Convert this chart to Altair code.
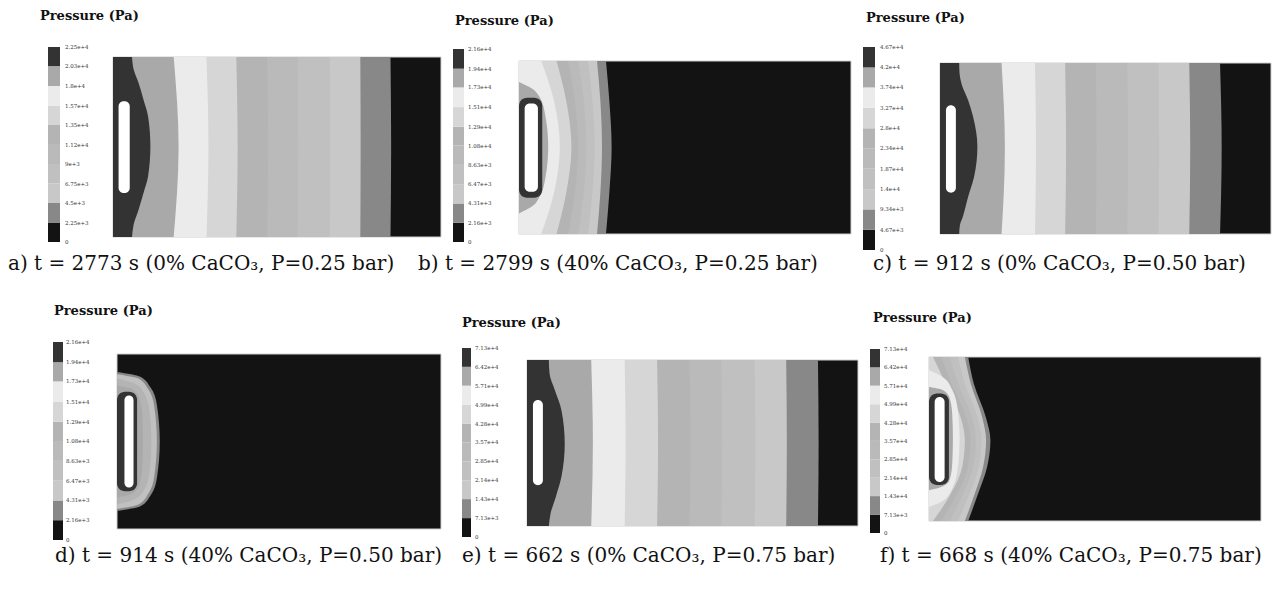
import altair as alt
import pandas as pd

SERIF = "DejaVu Serif, Liberation Serif, serif"
OFF = 8  # page margin

# ---------------- data ----------------
# colour of each pressure band, lowest band first
GRAYS = ["#131313", "#888888", "#c8c8c8", "#c0c0c0", "#bababa",
         "#b4b4b4", "#d6d6d6", "#ebebeb", "#a9a9a9", "#333333"]

TITLE = "Pressure (Pa)"

LABELS_A = ["0", "2.25e+3", "4.5e+3", "6.75e+3", "9e+3", "1.12e+4", "1.35e+4", "1.57e+4", "1.8e+4", "2.03e+4", "2.25e+4"]
LABELS_B = ["0", "2.16e+3", "4.31e+3", "6.47e+3", "8.63e+3", "1.08e+4", "1.29e+4", "1.51e+4", "1.73e+4", "1.94e+4", "2.16e+4"]
LABELS_C = ["0", "4.67e+3", "9.34e+3", "1.4e+4", "1.87e+4", "2.34e+4", "2.8e+4", "3.27e+4", "3.74e+4", "4.2e+4", "4.67e+4"]
LABELS_D = ["0", "2.16e+3", "4.31e+3", "6.47e+3", "8.63e+3", "1.08e+4", "1.29e+4", "1.51e+4", "1.73e+4", "1.94e+4", "2.16e+4"]
LABELS_E = ["0", "7.13e+3", "1.43e+4", "2.14e+4", "2.85e+4", "3.57e+4", "4.28e+4", "4.99e+4", "5.71e+4", "6.42e+4", "7.13e+4"]
LABELS_F = ["0", "7.13e+3", "1.43e+4", "2.14e+4", "2.85e+4", "3.57e+4", "4.28e+4", "4.99e+4", "5.71e+4", "6.42e+4", "7.13e+4"]

CAPTIONS = [
    "a)  t = 2773 s (0% CaCO\u2083, P=0.25 bar)",
    "b)  t = 2799 s (40% CaCO\u2083, P=0.25 bar)",
    "c) t = 912 s (0% CaCO\u2083, P=0.50 bar)",
    "d)   t = 914 s (40% CaCO\u2083, P=0.50 bar)",
    "e)  t = 662 s (0% CaCO\u2083, P=0.75 bar)",
    "f) t = 668 s (40% CaCO\u2083, P=0.75 bar)",
]

# Contour regions: (band level, heights from top 0..1, extent from inlet side 0..1)
Y3 = [0.0, 0.5, 1.0]
A_REGIONS = [
    (1, Y3, [0.846, 0.848, 0.846]),
    (2, Y3, [0.754, 0.755, 0.754]),
    (3, Y3, [0.661, 0.662, 0.661]),
    (4, Y3, [0.563, 0.565, 0.563]),
    (5, Y3, [0.470, 0.473, 0.470]),
    (6, Y3, [0.376, 0.380, 0.376]),
    (7, Y3, [0.285, 0.291, 0.285]),
    (8, Y3, [0.185, 0.200, 0.185]),
    (9, [0, 0.07, 0.144, 0.237, 0.33, 0.496, 0.663, 0.756, 0.848, 0.93, 1.0],
        [0.058, 0.063, 0.078, 0.093, 0.107, 0.114, 0.107, 0.093, 0.078, 0.063, 0.058]),
]
C_REGIONS = [
    (1, Y3, [0.846, 0.851, 0.846]),
    (2, Y3, [0.753, 0.756, 0.753]),
    (3, Y3, [0.660, 0.662, 0.660]),
    (4, Y3, [0.566, 0.568, 0.566]),
    (5, Y3, [0.471, 0.473, 0.471]),
    (6, Y3, [0.378, 0.381, 0.378]),
    (7, Y3, [0.287, 0.290, 0.287]),
    (8, Y3, [0.186, 0.196, 0.186]),
    (9, [0, 0.06, 0.121, 0.218, 0.315, 0.49, 0.665, 0.782, 0.899, 0.95, 1.0],
        [0.058, 0.059, 0.065, 0.085, 0.100, 0.113, 0.103, 0.085, 0.069, 0.060, 0.058]),
]
E_REGIONS = [
    (1, Y3, [0.879, 0.881, 0.879]),
    (2, Y3, [0.783, 0.785, 0.783]),
    (3, Y3, [0.688, 0.690, 0.688]),
    (4, Y3, [0.587, 0.590, 0.587]),
    (5, Y3, [0.491, 0.494, 0.491]),
    (6, Y3, [0.393, 0.396, 0.393]),
    (7, Y3, [0.295, 0.298, 0.295]),
    (8, Y3, [0.194, 0.199, 0.194]),
    (9, [0, 0.08, 0.181, 0.302, 0.503, 0.704, 0.825, 0.926, 1.0],
        [0.066, 0.068, 0.084, 0.104, 0.114, 0.104, 0.087, 0.071, 0.066]),
]
YB = [0.0, 0.227, 0.496, 0.765, 1.0]
B_REGIONS = [
    (1, YB, [0.262, 0.272, 0.279, 0.272, 0.262]),
    (2, YB, [0.235, 0.245, 0.250, 0.245, 0.235]),
    (3, YB, [0.208, 0.221, 0.228, 0.221, 0.208]),
    (4, YB, [0.178, 0.195, 0.203, 0.195, 0.178]),
    (5, YB, [0.148, 0.168, 0.178, 0.168, 0.148]),
    (6, YB, [0.113, 0.142, 0.158, 0.142, 0.113]),
    (7, YB, [0.067, 0.105, 0.123, 0.105, 0.067]),
    (8, [0.121, 0.16, 0.208, 0.323, 0.496, 0.669, 0.785, 0.84, 0.881],
        [0, 0.040, 0.062, 0.080, 0.088, 0.080, 0.062, 0.040, 0]),
]
D_REGIONS = [
    (1, [0.103, 0.13, 0.19, 0.29, 0.5, 0.71, 0.81, 0.87, 0.897],
        [0, 0.072, 0.103, 0.123, 0.132, 0.123, 0.103, 0.072, 0]),
    (3, [0.115, 0.14, 0.2, 0.3, 0.5, 0.7, 0.8, 0.86, 0.885],
        [0, 0.066, 0.096, 0.115, 0.123, 0.115, 0.096, 0.066, 0]),
    (5, [0.14, 0.17, 0.22, 0.32, 0.5, 0.68, 0.78, 0.83, 0.86],
        [0, 0.055, 0.083, 0.100, 0.106, 0.100, 0.083, 0.055, 0]),
    (8, [0.18, 0.2, 0.25, 0.35, 0.5, 0.65, 0.75, 0.8, 0.82],
        [0, 0.045, 0.068, 0.078, 0.080, 0.078, 0.068, 0.045, 0]),
]
YF = [0.0, 0.163, 0.366, 0.508, 0.671, 0.833, 1.0]
F_REGIONS = [
    (1, YF, [0.118, 0.135, 0.171, 0.185, 0.175, 0.148, 0.118]),
    (2, YF, [0.108, 0.126, 0.160, 0.172, 0.163, 0.138, 0.108]),
    (3, YF, [0.087, 0.108, 0.146, 0.158, 0.150, 0.122, 0.087]),
    (4, YF, [0.062, 0.088, 0.129, 0.141, 0.133, 0.103, 0.062]),
    (5, YF, [0.037, 0.068, 0.112, 0.125, 0.117, 0.085, 0.037]),
    (6, YF, [0.012, 0.050, 0.095, 0.108, 0.100, 0.066, 0.012]),
    (7, [0.08, 0.12, 0.2, 0.33, 0.5, 0.67, 0.8, 0.88, 0.915],
        [0, 0.040, 0.070, 0.087, 0.092, 0.087, 0.070, 0.040, 0]),
    (8, [0.183, 0.2, 0.25, 0.35, 0.5, 0.65, 0.75, 0.79, 0.813],
        [0, 0.040, 0.062, 0.070, 0.072, 0.070, 0.062, 0.040, 0]),
]

# inlet slot (white) and its dark rim: [x0, x1, y0, y1] in the same units
A_HOLE = [0.017, 0.051, 0.246, 0.756]
B_HOLE = [0.017, 0.057, 0.246, 0.756]
C_HOLE = [0.018, 0.048, 0.247, 0.759]
D_HOLE = [0.023, 0.051, 0.237, 0.763]
E_HOLE = [0.018, 0.048, 0.241, 0.755]
F_HOLE = [0.017, 0.047, 0.244, 0.762]
B_RIM = [0.0, 0.070, 0.212, 0.790]
D_RIM = [0.0, 0.062, 0.216, 0.784]
F_RIM = [0.0, 0.060, 0.222, 0.781]

# ---------------- layout (page pixels) ----------------
LAYOUT = {
    "a": dict(plot=(113, 441, 57, 237), bar=(48, 60, 47, 242), lab=65, title=(40, 16), cap=(8, 264)),
    "b": dict(plot=(519, 851, 61, 234), bar=(453, 464, 49, 242), lab=468, title=(455, 21), cap=(418, 264)),
    "c": dict(plot=(940, 1271, 63, 234), bar=(863, 875, 47, 250), lab=880, title=(866, 18), cap=(873, 264)),
    "d": dict(plot=(117, 441, 354, 529), bar=(53, 63, 342, 540), lab=66, title=(54, 311), cap=(55, 556)),
    "e": dict(plot=(527, 858, 360, 526), bar=(462, 471, 348, 537), lab=475, title=(462, 323), cap=(462, 556)),
    "f": dict(plot=(929, 1261, 357, 521), bar=(870, 880, 349, 533), lab=884, title=(873, 318), cap=(880, 556)),
}


def plot_group(regions, hole, rim, lay):
    px0, px1, py0, py1 = [v - OFF for v in lay["plot"]]
    xsc = alt.Scale(domain=[0, 1], range=[px0, px1], nice=False, zero=False)
    ysc = alt.Scale(domain=[0, 1], range=[py0, py1], nice=False, zero=False)
    base = alt.Chart(pd.DataFrame({"x0": [0.0], "x1": [1.0], "y0": [0.0], "y1": [1.0],
                                   "fill": [GRAYS[0]]})).mark_rect(
        stroke="#cfcfcf", strokeWidth=1).encode(
        x=alt.X("x0:Q", scale=xsc, axis=None), x2="x1:Q",
        y=alt.Y("y0:Q", scale=ysc, axis=None), y2="y1:Q",
        fill=alt.Fill("fill:N", scale=None))
    rows = []
    for i, (lev, ys, xs) in enumerate(regions):
        for yv, xv in zip(ys, xs):
            rows.append({"rid": f"r{i:02d}", "y": yv, "x0": 0.0, "xb": xv, "fill": GRAYS[lev]})
    reg = alt.Chart(pd.DataFrame(rows)).mark_area(
        orient="horizontal", interpolate="monotone").encode(
        y=alt.Y("y:Q", scale=ysc, axis=None),
        x=alt.X("x0:Q", scale=xsc, axis=None), x2="xb:Q",
        fill=alt.Fill("fill:N", scale=None), detail="rid:N")
    layers = [base, reg]
    if rim is not None:
        rdf = pd.DataFrame({"x0": [rim[0]], "x1": [rim[1]], "y0": [rim[2]], "y1": [rim[3]], "fill": [GRAYS[9]]})
        layers.append(alt.Chart(rdf).mark_rect(cornerRadius=8).encode(
            x=alt.X("x0:Q", scale=xsc, axis=None), x2="x1:Q",
            y=alt.Y("y0:Q", scale=ysc, axis=None), y2="y1:Q",
            fill=alt.Fill("fill:N", scale=None)))
    hdf = pd.DataFrame({"x0": [hole[0]], "x1": [hole[1]], "y0": [hole[2]], "y1": [hole[3]]})
    layers.append(alt.Chart(hdf).mark_rect(cornerRadius=5, fill="white").encode(
        x=alt.X("x0:Q", scale=xsc, axis=None), x2="x1:Q",
        y=alt.Y("y0:Q", scale=ysc, axis=None), y2="y1:Q"))
    return alt.layer(*layers)


def legend_group(labels, lay):
    vals = [float(s) for s in labels]
    b0, b1, bt, bb = lay["bar"]
    lsc = alt.Scale(domain=[0, vals[-1]], range=[bb - OFF, bt - OFF], nice=False, zero=False)
    seg = pd.DataFrame({"lo": vals[:-1], "hi": vals[1:], "fill": GRAYS})
    bar = alt.Chart(seg).mark_rect().encode(
        y=alt.Y("lo:Q", scale=lsc, axis=None), y2="hi:Q",
        x=alt.value(b0 - OFF), x2=alt.value(b1 - OFF),
        fill=alt.Fill("fill:N", scale=None))
    txt = alt.Chart(pd.DataFrame({"v": vals, "lab": labels})).mark_text(
        align="left", baseline="middle", font=SERIF, fontSize=5.5, color="#333333").encode(
        y=alt.Y("v:Q", scale=lsc, axis=None), x=alt.value(lay["lab"] - OFF), text="lab:N")
    return alt.layer(bar, txt)


def text_layer(s, pos, size, weight):
    return alt.Chart(pd.DataFrame({"t": [s]})).mark_text(
        align="left", baseline="middle", font=SERIF, fontSize=size,
        fontWeight=weight, color="#111111").encode(
        x=alt.value(pos[0] - OFF), y=alt.value(pos[1] - OFF), text="t:N")


PANELS = [
    ("a", A_REGIONS, A_HOLE, None, LABELS_A),
    ("b", B_REGIONS, B_HOLE, B_RIM, LABELS_B),
    ("c", C_REGIONS, C_HOLE, None, LABELS_C),
    ("d", D_REGIONS, D_HOLE, D_RIM, LABELS_D),
    ("e", E_REGIONS, E_HOLE, None, LABELS_E),
    ("f", F_REGIONS, F_HOLE, F_RIM, LABELS_F),
]

groups = []
for i, (key, regions, hole, rim, labels) in enumerate(PANELS):
    lay = LAYOUT[key]
    groups.append(plot_group(regions, hole, rim, lay))
    groups.append(legend_group(labels, lay))
    groups.append(text_layer(TITLE, lay["title"], 13, "bold"))
    groups.append(text_layer(CAPTIONS[i], lay["cap"], 20, "normal"))

chart = alt.layer(*groups).resolve_scale(x="independent", y="independent").properties(
    width=1265, height=573, padding=0,
    autosize=alt.AutoSizeParams(type="none"),
    background="white",
).configure_view(stroke=None)

chart.save("out.html", embed_options={"renderer": "svg", "actions": False})
